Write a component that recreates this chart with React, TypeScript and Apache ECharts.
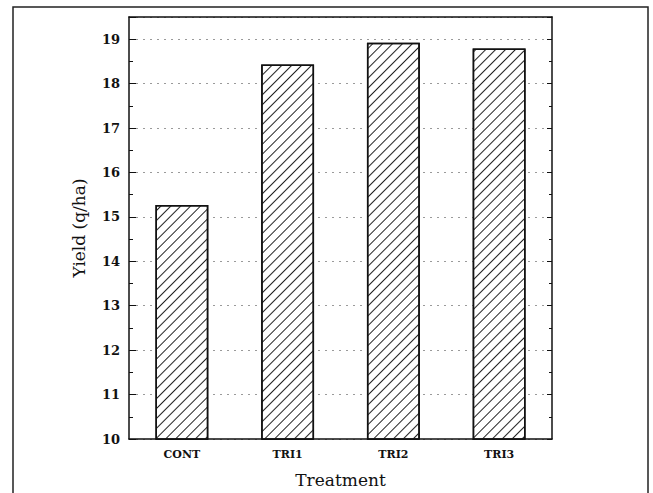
import React, { useEffect, useRef } from "react";
import * as echarts from "echarts";

const categories = ["CONT", "TRI1", "TRI2", "TRI3"];
const yieldValues = [15.27, 18.43, 18.92, 18.79];
const topTickSlots = ["", "", "", "", "", "", "", ""];
const yMin = 10;
const yMax = 19.5;

export default function App() {
  const ref = useRef<HTMLDivElement>(null);
  useEffect(() => {
    if (!ref.current) return;
    const chart = echarts.init(ref.current, undefined, { renderer: "svg" });
    const serif = "DejaVu Serif";
    chart.setOption({
      animation: false,
      backgroundColor: "#fff",
      grid: { left: 129, top: 17, right: 101, bottom: 54, containLabel: false },
      graphic: [
        {
          type: "polyline",
          shape: { points: [[13, 493], [13, 7], [648, 7], [648, 493]] },
          style: { stroke: "#222", lineWidth: 1.5, fill: "none" },
          silent: true,
        },
      ],
      xAxis: [
        {
          type: "category",
          data: categories,
          position: "bottom",
          name: "Treatment",
          nameLocation: "middle",
          nameGap: 32,
          nameTextStyle: { fontFamily: serif, fontSize: 17, color: "#111" },
          axisLine: { lineStyle: { color: "#111", width: 1.5 } },
          axisTick: { inside: true, length: 5, alignWithLabel: false, lineStyle: { color: "#111" } },
          axisLabel: { fontFamily: serif, fontWeight: "bold", fontSize: 11, color: "#111", margin: 10 },
          splitLine: { show: false },
        },
        {
          type: "category",
          data: topTickSlots,
          position: "top",
          axisLine: { lineStyle: { color: "#111", width: 1.5 } },
          axisTick: { inside: true, length: 5, lineStyle: { color: "#111" } },
          axisLabel: { show: false },
          splitLine: { show: false },
        },
      ],
      yAxis: [
        {
          type: "value",
          min: yMin,
          max: yMax,
          interval: 1,
          position: "left",
          name: "Yield (q/ha)",
          nameLocation: "middle",
          nameGap: 42,
          nameTextStyle: { fontFamily: serif, fontSize: 17, color: "#111" },
          axisLine: { show: true, lineStyle: { color: "#111", width: 1.5 } },
          axisTick: { show: true, inside: true, length: 7, lineStyle: { color: "#111" } },
          minorTick: { show: true, splitNumber: 2, length: 4, lineStyle: { color: "#111" } },
          axisLabel: {
            fontFamily: serif,
            fontWeight: "bold",
            fontSize: 13,
            color: "#111",
            margin: 9,
            showMaxLabel: false,
            formatter: (v: number) => (Number.isInteger(v) ? String(v) : ""),
          },
          splitLine: {
            show: true,
            lineStyle: { color: "#9a9a9a", type: [2, 5], width: 1 },
          },
        },
        {
          type: "value",
          min: yMin,
          max: yMax,
          interval: 1,
          position: "right",
          axisLine: { show: true, lineStyle: { color: "#111", width: 1.5 } },
          axisTick: { show: true, inside: true, length: 5, lineStyle: { color: "#111" } },
          minorTick: { show: true, splitNumber: 2, length: 3, lineStyle: { color: "#111" } },
          axisLabel: { show: false },
          splitLine: { show: false },
        },
      ],
      series: [
        {
          type: "bar",
          xAxisIndex: 0,
          yAxisIndex: 0,
          data: yieldValues,
          barWidth: "50%",
          itemStyle: {
            color: "#fff",
            borderColor: "#111",
            borderWidth: 1.5,
            decal: {
              symbol: "rect",
              symbolSize: 1,
              color: "#222",
              backgroundColor: "#fff",
              dashArrayX: [1, 0],
              dashArrayY: [1, 6],
              rotation: -Math.PI / 4,
            },
          },
        },
      ],
    });
    return () => chart.dispose();
  }, []);
  return (
    <div
      ref={ref}
      style={{ position: "fixed", left: 0, top: 0, width: 653, height: 493 }}
    />
  );
}
